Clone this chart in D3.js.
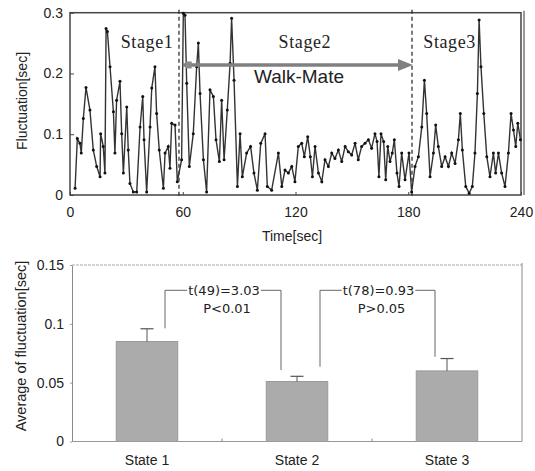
<!DOCTYPE html>
<html>
<head>
<meta charset="utf-8">
<script src="https://cdn.jsdelivr.net/npm/d3@7"></script>
<style>
 body { margin:0; background:#fff; }
 text { font-family: "Liberation Sans", Arial, sans-serif; fill:#222; }
</style>
</head>
<body>
<div id="chart"></div>
<script>
 // ---- top panel: fluctuation over time ----
 var times = [2.7,3.9,5.3,6.0,7.1,8.5,10.6,12.4,14.2,16.0,16.3,17.7,18.6,19.2,19.9,21.3,23.1,23.9,24.8,26.6,
	      27.5,28.4,30.2,31.0,31.9,33.7,35.5,37.3,38.7,39.4,40.8,42.6,43.5,45.2,46.1,47.5,49.7,50.6,52.3,53.2,
	      54.1,55.9,57.1,59.4,60.3,61.2,62.1,63.5,65.6,67.4,68.3,69.2,71.0,72.7,74.5,76.3,77.7,79.5,80.7,82.0,
	      83.7,85.2,86.0,87.3,89.1,90.5,91.7,94.0,96.1,97.9,99.7,101.5,103.8,105.0,107.3,110.9,112.7,114.4,116.2,118.0,
	      119.7,121.5,123.3,124.7,126.5,127.9,129.0,130.4,132.2,134.0,135.7,137.5,139.3,141.0,142.8,144.6,146.4,148.1,149.9,151.7,
	      153.4,155.2,157.0,158.8,160.5,162.3,163.4,164.4,165.5,166.9,168.0,169.1,170.3,171.5,172.6,174.0,175.1,176.5,178.3,180.4,
	      181.8,183.6,185.4,187.2,188.6,189.8,191.6,193.4,194.6,196.0,197.8,199.6,201.4,203.1,204.9,206.7,207.7,208.8,210.6,212.4,
	      214.1,215.5,216.8,217.7,218.7,220.2,221.8,223.5,225.3,226.5,228.0,229.7,231.5,233.3,234.7,236.0,237.2,238.3,239.7];
 var fluct = [0.011,0.093,0.085,0.069,0.126,0.177,0.140,0.074,0.047,0.030,0.101,0.080,0.036,0.274,0.269,0.211,0.137,0.069,0.156,0.187,
	      0.101,0.036,0.145,0.074,0.019,0.005,0.005,0.112,0.162,0.091,0.005,0.112,0.176,0.211,0.134,0.074,0.011,0.069,0.080,0.044,
	      0.118,0.115,0.022,0.058,0.299,0.296,0.184,0.047,0.101,0.211,0.250,0.167,0.058,0.005,0.173,0.162,0.091,0.055,0.156,0.058,
	      0.140,0.217,0.291,0.189,0.014,0.101,0.030,0.069,0.080,0.036,0.008,0.085,0.101,0.014,0.008,0.069,0.014,0.041,0.036,0.047,
	      0.022,0.080,0.085,0.063,0.096,0.063,0.030,0.080,0.036,0.022,0.058,0.047,0.069,0.060,0.074,0.055,0.080,0.071,0.066,0.085,
	      0.058,0.080,0.085,0.091,0.077,0.101,0.088,0.030,0.101,0.088,0.025,0.080,0.055,0.069,0.091,0.036,0.014,0.069,0.025,0.069,
	      0.005,0.047,0.063,0.112,0.189,0.134,0.030,0.069,0.115,0.080,0.047,0.063,0.047,0.069,0.052,0.091,0.134,0.074,0.014,0.003,
	      0.014,0.069,0.167,0.288,0.211,0.134,0.063,0.030,0.069,0.036,0.069,0.036,0.014,0.069,0.134,0.107,0.080,0.118,0.091];
 var timeTicks = [0,60,120,180,240];
 var fluctTicks = [0,0.1,0.2,0.3];
 var fluctTickLabels = ["0","0.1","0.2","0.3"];
 var stageBounds = [58,182];
 var stageNames = ["Stage1","Stage2","Stage3"];
 var stageCenters = [41,125,202];   // time at which each label is centred
 var arrowSpan = [60,182];
 var arrowLevel = 0.214;

 // ---- bottom panel: averages ----
 var states = ["State 1","State 2","State 3"];
 var means = [0.085,0.051,0.060];
 var errs = [0.0108,0.0044,0.0105];
 var avgTicks = [0,0.05,0.1,0.15];
 var avgTickLabels = ["0","0.05","0.1","0.15"];
 var tests = [
     {from:0, to:1, level:0.1285, legs:[0.0962,0.0607], text:"t(49)=3.03", p:"P<0.01", off:[18,-16]},
     {from:1, to:2, level:0.1285, legs:[0.0636,0.0720], text:"t(78)=0.93", p:"P>0.05", off:[23,-12]}
 ];

 var svg = d3.select("#chart").append("svg")
     .attr("width",535)
     .attr("height",471);

 //==== top panel
 var x = d3.scaleLinear().domain([0,240]).range([70,521]);
 var y = d3.scaleLinear().domain([0,0.3]).range([195,12.7]);
 var topG = svg.append("g").attr("id","topPanel");

 var xAxis = topG.append("g")
     .attr("transform","translate(0,"+y(0)+")")
     .call(d3.axisBottom(x).tickValues(timeTicks).tickSizeInner(-3).tickSizeOuter(0).tickPadding(12));
 var yAxis = topG.append("g")
     .attr("transform","translate("+x(0)+",0)")
     .call(d3.axisLeft(y).tickValues(fluctTicks).tickSizeInner(-4).tickSizeOuter(0).tickPadding(7)
	   .tickFormat(function(d,i){ return fluctTickLabels[i]; }));
 [xAxis,yAxis].forEach(function(a){
	 a.select(".domain").remove();
	 a.selectAll("line").attr("stroke","#444");
	 a.selectAll("text").style("font-size","14px").attr("fill","#222");
     });

 // frame
 topG.append("rect")
     .attr("x",x(0)).attr("y",y(0.3))
     .attr("width",x(240)-x(0)).attr("height",y(0)-y(0.3))
     .attr("fill","none").attr("stroke","#444").attr("stroke-width",1.5);
 topG.append("line")
     .attr("x1",x(240)+3).attr("x2",x(240)+3)
     .attr("y1",y(0.3)-2).attr("y2",y(0))
     .attr("stroke","#555").attr("stroke-width",1.2);

 // stage borders
 topG.selectAll("line.stage")
     .data(stageBounds)
     .enter().append("line")
     .attr("class","stage")
     .attr("x1",function(d){return x(d);}).attr("x2",function(d){return x(d);})
     .attr("y1",y(0.3)-3).attr("y2",y(0)+2)
     .attr("stroke","#222").attr("stroke-width",1.2)
     .attr("stroke-dasharray","4,3");

 var pts = times.map(function(t,i){ return [t,fluct[i]]; });
 topG.append("path")
     .datum(pts)
     .attr("fill","none")
     .attr("stroke","#333")
     .attr("stroke-width",1.4)
     .attr("d",d3.line().x(function(d){return x(d[0]);}).y(function(d){return y(d[1]);}));
 topG.selectAll("circle.pt")
     .data(pts)
     .enter().append("circle")
     .attr("class","pt")
     .attr("cx",function(d){return x(d[0]);})
     .attr("cy",function(d){return y(d[1]);})
     .attr("r",1.5)
     .attr("fill","#111");

 // Walk-Mate arrow
 var ay = y(arrowLevel);
 topG.append("line")
     .attr("x1",x(arrowSpan[0])).attr("x2",x(arrowSpan[1])-12)
     .attr("y1",ay).attr("y2",ay)
     .attr("stroke","#808080").attr("stroke-width",3.5);
 topG.append("rect")
     .attr("x",x(arrowSpan[0])+3).attr("y",ay-3.5)
     .attr("width",6).attr("height",7)
     .attr("fill","#8a8a8a");
 topG.append("path")
     .attr("d","M"+(x(arrowSpan[1])+1)+","+ay+" L"+(x(arrowSpan[1])-14)+","+(ay-6)+" L"+(x(arrowSpan[1])-14)+","+(ay+6)+"Z")
     .attr("fill","#808080");
 topG.append("text")
     .attr("x",299).attr("y",83)
     .attr("text-anchor","middle")
     .style("font-size","19px").attr("fill","#333")
     .text("Walk-Mate");

 topG.selectAll("text.stageName")
     .data(stageNames)
     .enter().append("text")
     .attr("class","stageName")
     .attr("x",function(d,i){return x(stageCenters[i]);})
     .attr("y",48)
     .attr("text-anchor","middle")
     .style("font-family","'Liberation Serif','Times New Roman',serif")
     .style("font-size","18px")
     .style("letter-spacing","0.6px")
     .attr("fill","#333")
     .text(function(d){return d;});

 topG.append("text")
     .attr("transform","translate(26.5,101) rotate(-90)")
     .attr("text-anchor","middle")
     .style("font-size","14px").attr("fill","#333")
     .text("Fluctuation[sec]");
 topG.append("text")
     .attr("x",292).attr("y",241)
     .attr("text-anchor","middle")
     .style("font-size","14px").attr("fill","#222")
     .text("Time[sec]");

 //==== bottom panel
 var bx = d3.scaleBand().domain(states).range([72,522]).padding(0);
 var by = d3.scaleLinear().domain([0,0.15]).range([441.5,265]);
 var bw = bx.bandwidth()*0.41;
 var cx = function(i){ return bx(states[i]) + bx.bandwidth()/2; };
 var bot = svg.append("g").attr("id","bottomPanel");

 var byAxis = bot.append("g")
     .attr("transform","translate(72,0)")
     .call(d3.axisLeft(by).tickValues(avgTicks).tickSizeInner(2).tickSizeOuter(0).tickPadding(6)
	   .tickFormat(function(d,i){ return avgTickLabels[i]; }));
 byAxis.select(".domain").attr("stroke","#8a8a8a");
 byAxis.selectAll("line").attr("stroke","#999");
 byAxis.selectAll("text").style("font-size","14px").attr("fill","#222");

 // plot frame
 bot.append("line")
     .attr("x1",72).attr("x2",522).attr("y1",by(0.15)).attr("y2",by(0.15))
     .attr("stroke","#aaa").attr("stroke-width",1).attr("stroke-dasharray","3,1");
 bot.append("line")
     .attr("x1",522).attr("x2",522).attr("y1",by(0.15)-2).attr("y2",by(0))
     .attr("stroke","#888").attr("stroke-width",1);
 bot.append("line")
     .attr("x1",72).attr("x2",522).attr("y1",by(0)).attr("y2",by(0))
     .attr("stroke","#999").attr("stroke-width",1.2);
 bot.selectAll("line.catTick")
     .data(states.slice(1))
     .enter().append("line")
     .attr("class","catTick")
     .attr("x1",function(d){return bx(d);}).attr("x2",function(d){return bx(d);})
     .attr("y1",by(0)).attr("y2",by(0)-3)
     .attr("stroke","#888");

 bot.selectAll("rect.bar")
     .data(means)
     .enter().append("rect")
     .attr("class","bar")
     .attr("x",function(d,i){return cx(i)-bw/2;})
     .attr("y",function(d){return by(d);})
     .attr("width",bw)
     .attr("height",function(d){return by(0)-by(d);})
     .attr("fill","#ababab")
     .attr("stroke","#9a9a9a")
     .attr("stroke-width",1);

 // error bars (upper only)
 var eb = bot.selectAll("g.err")
     .data(means)
     .enter().append("g").attr("class","err");
 eb.append("line")
     .attr("x1",function(d,i){return cx(i);}).attr("x2",function(d,i){return cx(i);})
     .attr("y1",function(d){return by(d);})
     .attr("y2",function(d,i){return by(d+errs[i]);})
     .attr("stroke","#555");
 eb.append("line")
     .attr("x1",function(d,i){return cx(i)-6.5;}).attr("x2",function(d,i){return cx(i)+6.5;})
     .attr("y1",function(d,i){return by(d+errs[i]);})
     .attr("y2",function(d,i){return by(d+errs[i]);})
     .attr("stroke","#555").attr("stroke-width",1.2);

 // t-test brackets, the t label sits on the line and breaks it
 tests.forEach(function(t){
	 var x1 = cx(t.from)+t.off[0], x2 = cx(t.to)+t.off[1], ly = by(t.level);
	 var mid = (x1+x2)/2;
	 bot.append("path")
	     .attr("d","M"+x1+","+by(t.legs[0])+" V"+ly+" H"+x2+" V"+by(t.legs[1]))
	     .attr("fill","none").attr("stroke","#666").attr("stroke-width",1);
	 var gap = bot.append("rect").attr("fill","#fff");
	 var tt = bot.append("text")
	     .attr("x",mid+1).attr("y",ly+5)
	     .attr("text-anchor","middle")
	     .style("font-family","'DejaVu Sans',Verdana,sans-serif")
	     .style("font-size","13px").attr("fill","#222")
	     .text(t.text);
	 var w = tt.node().getComputedTextLength();
	 gap.attr("x",mid+1-w/2-1).attr("y",ly-3).attr("width",w+2).attr("height",6);
	 bot.append("text")
	     .attr("x",mid+4).attr("y",ly+23)
	     .attr("text-anchor","middle")
	     .style("font-family","'DejaVu Sans',Verdana,sans-serif")
	     .style("font-size","13px").attr("fill","#222")
	     .text(t.p);
     });

 bot.selectAll("text.cat")
     .data(states)
     .enter().append("text")
     .attr("class","cat")
     .attr("x",function(d,i){return cx(i);})
     .attr("y",465)
     .attr("text-anchor","middle")
     .style("font-size","14px").attr("fill","#222")
     .text(function(d){return d;});

 bot.append("text")
     .attr("transform","translate(25.5,346) rotate(-90)")
     .attr("text-anchor","middle")
     .style("font-size","14.5px").attr("fill","#333")
     .text("Average of fluctuation[sec]");
</script>
</body>
</html>
